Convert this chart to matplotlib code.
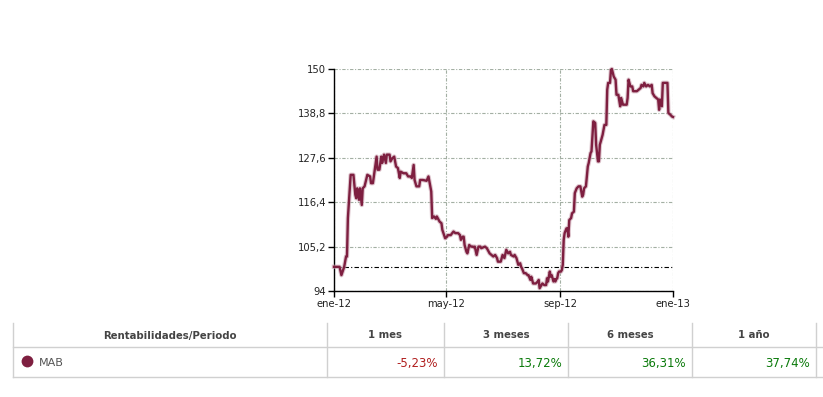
import matplotlib
matplotlib.use("Agg")
import matplotlib.pyplot as plt
from matplotlib.lines import Line2D
import pandas as pd

# ---------------- data ----------------
day_offsets = [0, 6, 8, 11, 13, 14, 15, 18, 21, 23, 24, 25, 27, 28, 30, 31, 33, 36, 39, 40,
               42, 44, 46, 47, 49, 51, 52, 54, 56, 57, 60, 61, 63, 65, 67, 69, 71, 72, 75, 78,
               80, 83, 84, 86, 87, 89, 92, 93, 96, 100, 102, 103, 105, 106, 108, 110, 111, 113, 114, 116,
               117, 120, 122, 123, 126, 129, 131, 134, 136, 137, 139, 140, 141, 143, 144, 146, 148, 150, 151, 152,
               154, 156, 158, 159, 163, 165, 167, 168, 170, 172, 174, 176, 177, 180, 182, 184, 186, 188, 190, 191,
               194, 195, 197, 199, 201, 202, 203, 205, 207, 209, 210, 212, 213, 215, 218, 220, 221, 222, 224, 225,
               227, 229, 230, 231, 233, 234, 235, 237, 238, 239, 240, 241, 242, 243, 245, 246, 247, 248, 249, 251,
               252, 253, 254, 256, 257, 259, 260, 262, 264, 266, 268, 269, 270, 272, 274, 275, 277, 278, 280, 282,
               283, 285, 286, 287, 288, 290, 292, 294, 295, 296, 298, 299, 300, 302, 304, 305, 307, 309, 310, 312,
               313, 316, 317, 318, 320, 322, 323, 325, 327, 329, 331, 332, 334, 335, 337, 339, 341, 343, 344, 346,
               348, 350, 351, 352, 354, 355, 358, 360, 361, 363, 365, 366]
mab_values = [100.1, 100.1, 98.0, 100.1, 102.7, 102.7, 112.4, 123.3, 123.3, 118.3, 117.4, 119.9, 117.0, 119.9, 115.7, 119.9, 120.4, 123.3, 122.9, 121.2,
              121.2, 124.6, 127.9, 124.6, 124.6, 127.9, 126.3, 128.4, 126.3, 128.4, 128.4, 126.7, 127.5, 127.9, 125.4, 125.0, 122.5, 124.1, 123.7, 123.7,
              122.9, 122.9, 122.5, 125.8, 122.0, 120.4, 120.4, 122.0, 122.0, 121.8, 122.9, 121.6, 119.1, 112.4, 112.8, 112.2, 112.8, 111.9, 111.5, 111.1,
              109.4, 107.3, 107.7, 108.1, 108.1, 109.0, 108.6, 108.6, 108.1, 106.9, 107.7, 107.7, 105.6, 103.9, 103.5, 105.6, 105.2, 105.2, 105.0, 105.2,
              103.1, 105.2, 105.2, 104.8, 105.2, 104.8, 103.9, 103.5, 103.1, 102.7, 103.1, 102.3, 101.4, 101.4, 103.1, 102.3, 104.4, 103.5, 103.9, 103.1,
              102.7, 103.1, 102.3, 100.6, 101.0, 100.1, 99.7, 98.5, 98.5, 98.0, 98.0, 96.8, 97.6, 95.9, 95.9, 96.4, 96.8, 94.7, 95.5, 95.9,
              95.5, 95.5, 97.2, 96.4, 98.9, 97.6, 98.0, 96.4, 97.0, 96.4, 97.0, 97.2, 98.5, 98.9, 98.9, 99.3, 100.6, 106.9, 108.6, 109.8,
              109.8, 107.7, 111.9, 112.4, 113.6, 114.0, 118.7, 119.9, 120.4, 120.4, 117.8, 118.3, 119.9, 120.4, 125.4, 126.3, 128.8, 129.2, 136.8, 136.4,
              130.9, 126.7, 126.7, 130.9, 131.7, 133.4, 135.9, 135.9, 144.8, 146.5, 146.5, 149.8, 150.0, 148.1, 147.3, 143.5, 143.5, 140.6, 142.7, 141.0,
              141.0, 141.0, 142.7, 147.3, 145.6, 145.6, 144.4, 144.4, 144.4, 144.8, 145.2, 146.0, 145.6, 146.5, 145.6, 146.0, 145.6, 146.0, 143.9, 143.1,
              142.7, 142.3, 139.7, 142.3, 140.6, 146.5, 146.5, 146.5, 138.9, 138.5, 138.0, 137.9]
reference_level = 100
y_ticks = [94, 105.2, 116.4, 127.6, 138.8, 150]
y_tick_labels = ["94", "105,2", "116,4", "127,6", "138,8", "150"]
x_tick_dates = ["2012-01-01", "2012-05-01", "2012-09-01", "2013-01-01"]
x_tick_labels = ["ene-12", "may-12", "sep-12", "ene-13"]

table_header = ["Rentabilidades/Periodo", "1 mes", "3 meses", "6 meses", "1 año"]
series_name = "MAB"
returns = ["-5,23%", "13,72%", "36,31%", "37,74%"]
return_colors = ["#b01e1e", "#0a7a0a", "#0a7a0a", "#0a7a0a"]

# ---------------- figure ----------------
W, H = 823, 397
fig = plt.figure(figsize=(W / 100, H / 100), dpi=100)
fig.patch.set_facecolor("white")

def fx(px):
    return px / W

def fy(py):
    return 1 - py / H

ax_l, ax_r, ax_t, ax_b = 334, 673, 69, 291
ax = fig.add_axes([fx(ax_l), fy(ax_b), fx(ax_r - ax_l), (ax_b - ax_t) / H])

dates = pd.Timestamp("2012-01-01") + pd.to_timedelta(day_offsets, unit="D")
line_color = "#7e1f40"
ax.plot(dates, mab_values, color="#c9a0ae", lw=3.2, alpha=0.6, solid_joinstyle="round", zorder=3, clip_on=False)
ax.plot(dates, mab_values, color=line_color, lw=1.7, solid_joinstyle="round", zorder=4, clip_on=False)
ax.axhline(reference_level, color="black", lw=0.8, linestyle=(0, (4, 2, 1, 2)), zorder=2)

tick_dates = pd.to_datetime(x_tick_dates)
ax.set_xlim(tick_dates[0], tick_dates[-1])
ax.set_ylim(y_ticks[0], y_ticks[-1])
ax.set_xticks(tick_dates)
ax.set_xticklabels(x_tick_labels)
ax.set_yticks(y_ticks)
ax.set_yticklabels(y_tick_labels)

grid_style = dict(color="#a3afa3", lw=0.8, linestyle=(0, (3, 1.5, 1, 1.5)))
ax.grid(True, **grid_style)
ax.set_axisbelow(True)

for s in ["top", "right"]:
    ax.spines[s].set_visible(False)
for s in ["left", "bottom"]:
    ax.spines[s].set_color("black")
    ax.spines[s].set_linewidth(1.0)

ax.tick_params(axis="both", direction="out", length=4, width=1, colors="black",
               labelsize=7.2, labelcolor="#222222", pad=1.5)

# ---------------- table ----------------
border = "#d0d0d0"
col_x = [13, 327, 444, 568, 692, 816]
top_y, mid_y, bot_y = 323, 347, 377

def hline(y, x0, x1):
    fig.add_artist(Line2D([fx(x0), fx(x1)], [fy(y), fy(y)], color=border, lw=1.0))

def vline(x, y0, y1):
    fig.add_artist(Line2D([fx(x), fx(x)], [fy(y0), fy(y1)], color=border, lw=1.0))

hline(mid_y, col_x[0], 823)
hline(bot_y, col_x[0], 823)
for x in col_x:
    vline(x, top_y, bot_y)

head_y = (top_y + mid_y) / 2 + 0.5
row_y = (mid_y + bot_y) / 2 + 1.5
for i, txt in enumerate(table_header):
    cx = (col_x[i] + col_x[i + 1]) / 2
    fig.text(fx(cx), fy(head_y), txt, ha="center", va="center",
             fontsize=7.3, fontweight="bold", color="#444444")

fig.add_artist(Line2D([fx(27)], [fy(row_y - 3)], marker="o", markersize=8.5,
                      color=line_color, markeredgewidth=0))
fig.text(fx(39), fy(row_y), series_name, ha="left", va="center", fontsize=8, color="#555555")
for i, (val, c) in enumerate(zip(returns, return_colors)):
    fig.text(fx(col_x[i + 2] - 6), fy(row_y), val, ha="right", va="center", fontsize=8.5, color=c)

fig.savefig("out.png", dpi=100, facecolor="white")
